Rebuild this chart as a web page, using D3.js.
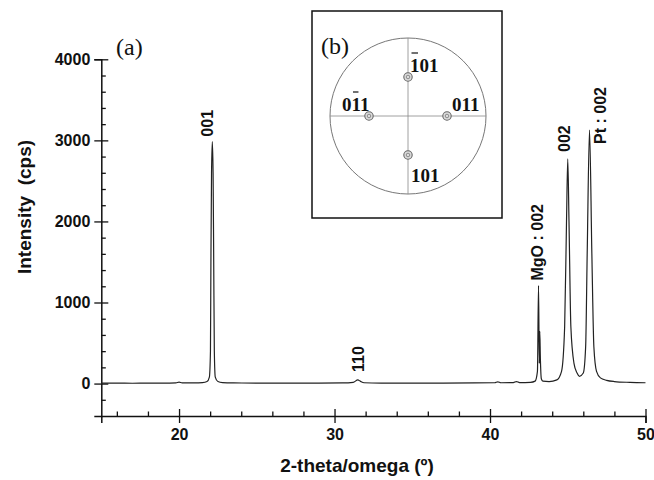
<!DOCTYPE html>
<html><head><meta charset="utf-8">
<script src="https://cdn.jsdelivr.net/npm/d3@7"></script>
<style>body{margin:0;background:#fff}</style>
</head><body><svg id="c" width="654" height="480"></svg>
<script>
// ---- data ----
const scanAngle = [15.0,16.0,17.0,18.0,19.0,19.8,20.0,20.2,21.0,21.5,21.8,21.95,22.02,22.05,22.09,22.14,22.19,22.23,22.27,22.33,22.5,22.8,23.5,25.0,27.0,29.0,30.5,31.2,31.5,31.65,31.9,33.0,35.0,37.0,39.0,40.3,40.5,40.7,41.5,41.7,41.9,42.6,42.9,43.05,43.12,43.17,43.2,43.24,43.3,43.4,43.8,44.3,44.6,44.8,44.92,45.0,45.08,45.2,45.4,45.6,45.75,46.0,46.15,46.25,46.4,46.55,46.68,46.85,47.1,47.5,48.0,49.0,50.0];
const scanIntensity = [5,6,4,6,5,8,18,8,8,12,25,80,400,1500,2600,2984,2600,1500,400,80,25,12,8,6,5,6,8,15,45,30,10,6,5,6,8,10,22,10,12,25,12,15,30,150,1210,250,644,300,60,30,25,45,150,700,2000,2771,2000,700,250,130,90,130,450,1600,3128,1600,450,150,70,40,25,15,10];
const xMajorTicks = [20,30,40,50];
const xMinorTicks = [16,18,22,24,26,28,32,34,36,38,42,44,46,48];
const yMajorTicks = [0,1000,2000,3000,4000];
const yMinorTicks = [-200,200,400,600,800,1200,1400,1600,1800,2200,2400,2600,2800,3200,3400,3600,3800];
const peakLabels = ["001","110","MgO : 002","002","Pt : 002"];
const peakLabelAngle = [22.14,31.5,43.12,45.0,46.4];
const peakLabelIntensity = [2984,45,1210,2771,3128];
const poleLabels = ["101","011","011","101"];
const poleBarChar = [0,1,-1,-1];
const polePhi = [90,180,0,270];
const poleChi = [45,45,45,45];

// ---- layout ----
const svg = d3.select("#c");
const sans = "'Liberation Sans', Arial, sans-serif";
const serif = "'Liberation Serif', 'Times New Roman', serif";
const x = d3.scaleLinear().domain([15,50]).range([101.3,645.5]);
const y = d3.scaleLinear().domain([-400,4000]).range([416,59.3]);
const ink = "#111";

// axes
const gx = svg.append("g").attr("transform",`translate(0,${y(-400)})`);
gx.call(d3.axisBottom(x).tickValues(xMajorTicks).tickSize(7).tickPadding(6).tickFormat(d3.format("d")));
gx.append("g").call(d3.axisTop(x).tickValues(xMajorTicks).tickSize(7).tickFormat(""));
gx.append("g").call(d3.axisTop(x).tickValues(xMinorTicks).tickSize(4.5).tickFormat(""));
const gy = svg.append("g").attr("transform",`translate(${x(15)},0)`);
gy.call(d3.axisLeft(y).tickValues(yMajorTicks).tickSize(7).tickPadding(4).tickFormat(d3.format("d")));
gy.append("g").call(d3.axisRight(y).tickValues(yMajorTicks).tickSize(7).tickFormat(""));
gy.append("g").call(d3.axisRight(y).tickValues(yMinorTicks).tickSize(4.5).tickFormat(""));
svg.selectAll(".domain").attr("stroke",ink).attr("stroke-width",1.5);
svg.selectAll(".tick line").attr("stroke",ink).attr("stroke-width",1.3);
svg.selectAll(".tick text").attr("font-family",sans).attr("font-weight","bold").attr("font-size",16).attr("fill",ink);
gx.selectAll("g > g .domain").remove();
gy.selectAll("g > g .domain").remove();

// axis titles
svg.append("text").attr("x",357).attr("y",472).attr("text-anchor","middle")
  .attr("font-family",sans).attr("font-weight","bold").attr("font-size",19).attr("fill",ink)
  .text("2-theta/omega (º)");
svg.append("text").attr("transform","translate(31,207) rotate(-90)").attr("text-anchor","middle")
  .attr("font-family",sans).attr("font-weight","bold").attr("font-size",19).attr("fill",ink)
  .attr("xml:space","preserve").text("Intensity  (cps)");

// scan curve
const pts = scanAngle.map((a,i)=>[a,scanIntensity[i]]);
svg.append("path").datum(pts)
  .attr("d",d3.line().x(d=>x(d[0])).y(d=>y(d[1])).curve(d3.curveMonotoneX))
  .attr("fill","none").attr("stroke","#222").attr("stroke-width",1.2);

// peak labels
const ldx = [1,6,4,2,16], ldy = [-5,-8,-5,-7,14];
peakLabels.forEach((t,i)=>{
  const px = x(peakLabelAngle[i])+ldx[i], py = y(peakLabelIntensity[i])+ldy[i];
  svg.append("text").attr("transform",`translate(${px},${py}) rotate(-90)`)
    .attr("font-family",sans).attr("font-weight","bold").attr("font-size",16).attr("fill",ink)
    .text(t);
});

// (a)
svg.append("text").attr("x",116).attr("y",55).attr("font-family",serif).attr("font-size",24).attr("fill",ink).text("(a)");

// inset (b)
const inset = svg.append("g");
inset.append("rect").attr("x",312).attr("y",11).attr("width",190).attr("height",207)
  .attr("fill","#fff").attr("stroke",ink).attr("stroke-width",1.5);
const cx = 408, cy = 116, R = 78;
const rr = d3.scaleLinear().domain([0,90]).range([0,R]);
inset.append("circle").attr("cx",cx).attr("cy",cy).attr("r",R).attr("fill","none").attr("stroke","#777").attr("stroke-width",1);
inset.append("line").attr("x1",cx-R).attr("x2",cx+R).attr("y1",cy).attr("y2",cy).attr("stroke","#888").attr("stroke-width",0.8);
inset.append("line").attr("x1",cx).attr("x2",cx).attr("y1",cy-R).attr("y2",cy+R).attr("stroke","#888").attr("stroke-width",0.8);
inset.append("text").attr("x",321).attr("y",54).attr("font-family",serif).attr("font-size",24).attr("fill",ink).text("(b)");
const pdx = [2,-27,5,3], pdy = [-5,-5,-5,27];
poleLabels.forEach((t,i)=>{
  const a = polePhi[i]*Math.PI/180, r = rr(poleChi[i]);
  const sx = cx + r*Math.cos(a), sy = cy - r*Math.sin(a);
  inset.append("circle").attr("cx",sx).attr("cy",sy).attr("r",4.2).attr("fill","#ddd").attr("stroke","#666").attr("stroke-width",1.1);
  inset.append("circle").attr("cx",sx).attr("cy",sy).attr("r",1.8).attr("fill","none").attr("stroke","#777").attr("stroke-width",0.8);
  const tx = inset.append("text").attr("x",sx+pdx[i]).attr("y",sy+pdy[i])
    .attr("font-family",serif).attr("font-weight","bold").attr("font-size",19).attr("fill",ink).text(t);
  if (poleBarChar[i]>=0){
    const e = tx.node().getExtentOfChar(poleBarChar[i]);
    inset.append("line").attr("x1",e.x+1.5).attr("x2",e.x+e.width-1.5)
      .attr("y1",sy+pdy[i]-19).attr("y2",sy+pdy[i]-19).attr("stroke",ink).attr("stroke-width",1.2);
  }
});
</script></body></html>
